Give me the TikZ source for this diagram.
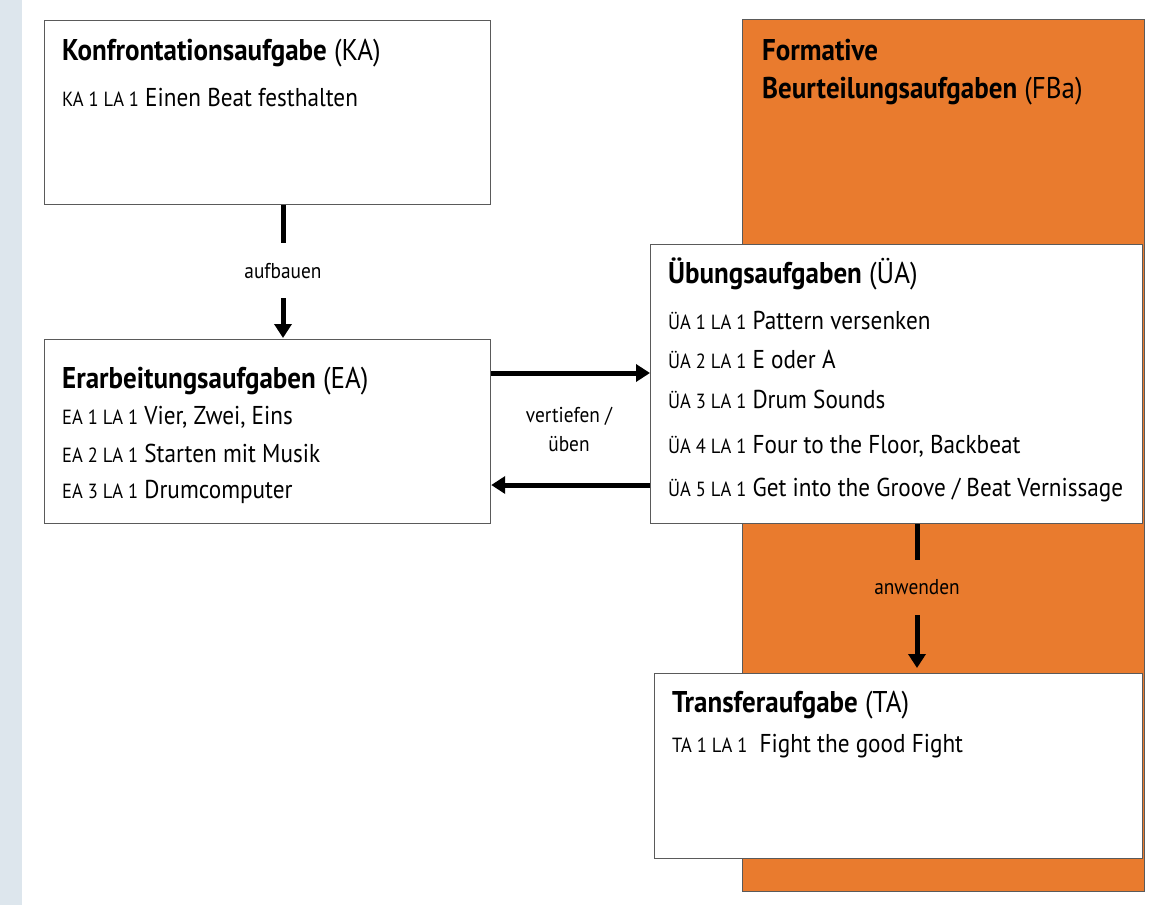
\documentclass[tikz,border=0pt]{standalone}
\usepackage{fontspec}
\setmainfont[FakeStretch=0.9]{PT Sans}
\usetikzlibrary{arrows.meta}
\definecolor{fbaorange}{HTML}{E97B2E}
\definecolor{stripcol}{HTML}{DDE6ED}
\definecolor{boxline}{HTML}{5A5A5A}
\newcommand\lapre[1]{{\fontsize{20.5}{24}\selectfont #1}}
\begin{document}
\begin{tikzpicture}[x=1pt,y=-1pt,
  box/.style={draw=boxline,line width=1.2pt,fill=white,inner sep=0pt,anchor=north west},
  ttl/.style={anchor=base west,inner sep=0pt,font=\fontsize{30}{34}\selectfont},
  itm/.style={anchor=base west,inner sep=0pt,font=\fontsize{25.8}{30}\selectfont},
  lbl/.style={inner sep=0pt,font=\fontsize{21.5}{25}\selectfont},
  arr/.style={line width=5pt,-{Triangle[length=14pt,width=17pt]}},
  seg/.style={line width=5pt}]
\useasboundingbox (0,0) rectangle (1173,905);
\fill[white] (0,0) rectangle (1173,905);
\fill[stripcol] (0,0) rectangle (22,905);
% orange background
\node[draw=boxline,line width=1pt,fill=fbaorange,minimum width=402pt,minimum height=872pt,inner sep=0pt,anchor=north west] (fba) at (742,19) {};
\node[ttl] (fbat1) at (762,60) {\textbf{Formative}};
\node[ttl] (fbat2) at (762,98) {\textbf{Beurteilungsaufgaben} (FBa)};
% boxes
\node[box,minimum width=446pt,minimum height=184pt] (ka) at (44,20) {};
\node[box,minimum width=446pt,minimum height=184pt] (ea) at (44,339) {};
\node[box,minimum width=492pt,minimum height=279pt] (ua) at (650,244) {};
\node[box,minimum width=488pt,minimum height=185pt] (ta) at (654,673) {};
% KA texts
\node[ttl] (kat) at (62,60) {\textbf{Konfrontationsaufgabe} (KA)};
\node[itm] (ka1) at (62,106) {\lapre{KA 1 LA 1} Einen Beat festhalten};
% EA texts
\node[ttl] (eat) at (62,388) {\textbf{Erarbeitungsaufgaben} (EA)};
\node[itm] (ea1) at (62,424) {\lapre{EA 1 LA 1} Vier, Zwei, Eins};
\node[itm] (ea2) at (62,462) {\lapre{EA 2 LA 1} Starten mit Musik};
\node[itm] (ea3) at (62,498) {\lapre{EA 3 LA 1} Drumcomputer};
% UA texts
\node[ttl] (uat) at (668,283) {\textbf{Übungsaufgaben} (ÜA)};
\node[itm] (ua1) at (668,329) {\lapre{ÜA 1 LA 1} Pattern versenken};
\node[itm] (ua2) at (668,368) {\lapre{ÜA 2 LA 1} E oder A};
\node[itm] (ua3) at (668,408) {\lapre{ÜA 3 LA 1} Drum Sounds};
\node[itm] (ua4) at (668,453) {\lapre{ÜA 4 LA 1} Four to the Floor, Backbeat};
\node[itm] (ua5) at (668,496) {\lapre{ÜA 5 LA 1} Get into the Groove / Beat Vernissage};
% TA texts
\node[ttl] (tat) at (672,712) {\textbf{Transferaufgabe} (TA)};
\node[itm] (ta1) at (672,752) {\lapre{TA 1 LA 1}\ \ Fight the good Fight};
% connectors
\coordinate (ax) at (283,0);
\coordinate (bx) at (917,0);
\coordinate (r1) at (0,373);
\coordinate (r2) at (0,485);
\node[lbl] (aufb) at (283,271) {aufbauen};
\node[lbl] (anw) at (917,587) {anwenden};
\node[lbl,align=center] (vu) at (569,429) {vertiefen /\\[4pt]üben};
\draw[seg] (ax |- ka.south) -- ([yshift=28pt]aufb.center);
\draw[arr] ([yshift=-27pt]aufb.center) -- ([yshift=1pt]ea.north -| ax);
\draw[seg] (bx |- ua.south) -- ([yshift=27pt]anw.center);
\draw[arr] ([yshift=-28pt]anw.center) -- ([yshift=5pt]ta.north -| bx);
\draw[arr] (ea.east |- r1) -- (ua.west |- r1);
\draw[arr] (ua.west |- r2) -- (ea.east |- r2);
\end{tikzpicture}
\end{document}
